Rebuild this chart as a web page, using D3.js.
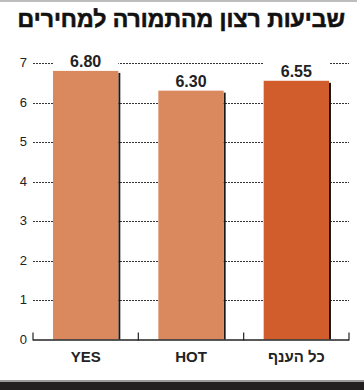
<!DOCTYPE html>
<html>
<head>
<meta charset="utf-8">
<script src="https://cdn.jsdelivr.net/npm/d3@7"></script>
<style>
  body { margin: 0; background: #fff; }
  svg { display: block; }
</style>
</head>
<body>
<div id="chart"></div>
<script>
// data
var title = "שביעות רצון מהתמורה למחירים";
var categories = ["YES", "HOT", "כל הענף"];
var values = [6.80, 6.30, 6.55];
var barColors = ["#da895e", "#da895e", "#d15c2c"];
var yTicks = [0, 1, 2, 3, 4, 5, 6, 7];

var W = 364, H = 390;
var svg = d3.select("#chart").append("svg")
  .attr("width", W)
  .attr("height", H);

// frame bits
svg.append("rect").attr("x", 0).attr("y", 0).attr("width", 357).attr("height", 2).attr("fill", "#bdbdbd");
svg.append("rect").attr("x", 0).attr("y", 380).attr("width", W).attr("height", 2).attr("fill", "#9a9a9a");
svg.append("rect").attr("x", 0).attr("y", 382).attr("width", W).attr("height", 8).attr("fill", "#231f20");

// title, stroked a little to get the heavy look
svg.append("text")
  .attr("x", 345)
  .attr("y", 27)
  .attr("text-anchor", "end")
  .style("font-family", "'Liberation Sans', Arial, sans-serif")
  .style("font-weight", "bold")
  .style("font-size", "23px")
  .attr("fill", "#111")
  .attr("stroke", "#111")
  .attr("stroke-width", 0.6)
  .text(title);

var x = d3.scaleBand().domain(categories).range([33, 349]).padding(0);
var barW = x.bandwidth() * 0.62;
var y = d3.scaleLinear().domain([0, 7]).range([339.5, 63]);

// dotted gridlines
svg.append("g").selectAll("line")
  .data(yTicks.filter(function (d) { return d > 0; }))
  .join("line")
  .attr("x1", 33).attr("x2", 349)
  .attr("y1", function (d) { return Math.round(y(d)) + 0.5; })
  .attr("y2", function (d) { return Math.round(y(d)) + 0.5; })
  .attr("stroke", "#333")
  .attr("stroke-width", 1)
  .attr("stroke-dasharray", "2,1");

// y tick labels
svg.append("g").selectAll("text")
  .data(yTicks)
  .join("text")
  .attr("x", 27)
  .attr("y", function (d) { return y(d) + 4; })
  .attr("text-anchor", "end")
  .style("font-family", "'Liberation Sans Narrow', 'Liberation Sans', Arial, sans-serif")
  .style("font-size", "13px")
  .attr("fill", "#222")
  .text(function (d) { return d; });

var bars = svg.append("g").selectAll("g")
  .data(categories.map(function (c, i) { return { cat: c, v: values[i], color: barColors[i] }; }))
  .join("g");

// white backing under value labels
bars.append("rect")
  .attr("x", function (d) { return x(d.cat) + (x.bandwidth() - barW) / 2; })
  .attr("y", function (d) { return y(d.v) - 19; })
  .attr("width", barW)
  .attr("height", 19)
  .attr("fill", "#fff");

// shadow
bars.append("rect")
  .attr("x", function (d) { return x(d.cat) + (x.bandwidth() + barW) / 2; })
  .attr("y", function (d) { return y(d.v) + 2; })
  .attr("width", 2)
  .attr("height", function (d) { return y(0) - y(d.v) - 2; })
  .attr("fill", "#1a1a1a");

bars.append("rect")
  .attr("x", function (d) { return x(d.cat) + (x.bandwidth() - barW) / 2; })
  .attr("y", function (d) { return y(d.v); })
  .attr("width", barW)
  .attr("height", function (d) { return y(0) - y(d.v); })
  .attr("fill", function (d) { return d.color; });

bars.append("text")
  .attr("x", function (d) { return x(d.cat) + x.bandwidth() / 2; })
  .attr("y", function (d) { return y(d.v) - 4; })
  .attr("text-anchor", "middle")
  .style("font-family", "'Liberation Sans Narrow', 'Liberation Sans', Arial, sans-serif")
  .style("font-weight", "bold")
  .style("font-size", "16px")
  .attr("fill", "#222")
  .text(function (d) { return d.v.toFixed(2); });

// baseline axis with upward ticks
var axis = svg.append("g");
axis.append("line")
  .attr("x1", 33).attr("x2", 349)
  .attr("y1", y(0) + 0.5).attr("y2", y(0) + 0.5)
  .attr("stroke", "#222").attr("stroke-width", 1.5);
axis.selectAll("line.tk")
  .data(categories.concat(["end"]))
  .join("line")
  .attr("class", "tk")
  .attr("x1", function (d, i) { return 33 + i * x.step(); })
  .attr("x2", function (d, i) { return 33 + i * x.step(); })
  .attr("y1", y(0) - 7).attr("y2", y(0) + 1)
  .attr("stroke", "#222").attr("stroke-width", 1.2);

svg.append("g").selectAll("text")
  .data(categories)
  .join("text")
  .attr("x", function (d) { return x(d) + x.bandwidth() / 2; })
  .attr("y", 362)
  .attr("text-anchor", "middle")
  .style("font-family", "'Liberation Sans Narrow', 'Liberation Sans', Arial, sans-serif")
  .style("font-weight", "bold")
  .style("font-size", "15px")
  .attr("fill", "#222")
  .text(function (d) { return d; });
</script>
</body>
</html>
